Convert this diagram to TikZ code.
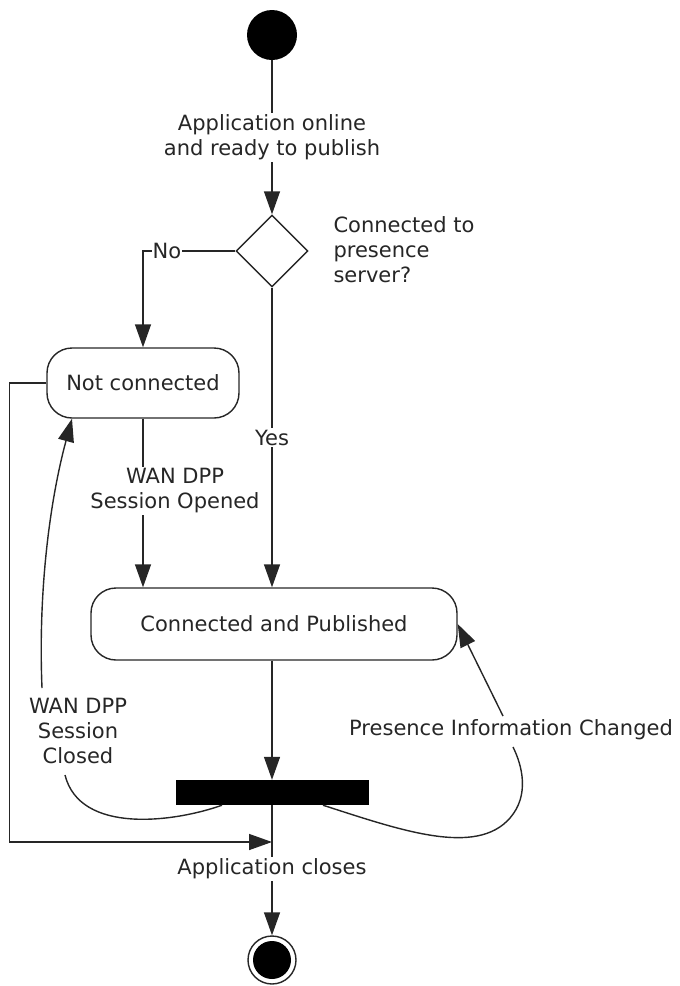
\documentclass[tikz,border=0pt]{standalone}
\usepackage{fontspec}
\setmainfont{DejaVu Sans}
\usetikzlibrary{shapes.geometric,arrows.meta}
\begin{document}
\begin{tikzpicture}[x=1pt,y=-1pt,
  every node/.style={font=\fontsize{21}{25}\selectfont, text=black!85},
  conn/.style={line width=1.4pt, draw=black!85},
  arr/.style={conn, -{Triangle[length=23pt,width=16pt]}},
  state/.style={draw=black!85, line width=1.4pt, rounded corners=25pt, inner sep=0pt},
  lbl/.style={fill=white, inner sep=2pt, align=center},
]
\useasboundingbox (0,0) rectangle (680,986);
% nodes
\node[circle, fill=black, minimum size=50pt, inner sep=0pt] (start) at (272,35) {};
\node[diamond, draw=black!85, line width=1.4pt, minimum width=72pt, minimum height=72pt, inner sep=0pt, aspect=1] (dia) at (272,251) {};
\node[align=left, anchor=west] (q) at (330,250) {Connected to\\presence\\server?};
\node[state, minimum width=192pt, minimum height=70pt] (nc) at (143,383) {Not connected};
\node[state, minimum width=366pt, minimum height=72pt] (cp) at (274,624) {Connected and Published};
\node[fill=black, minimum width=193pt, minimum height=25pt, inner sep=0pt] (bar) at (272,792.5) {};
\node[circle, draw=black!85, line width=1.4pt, minimum size=48pt, inner sep=0pt] (end) at (272,960) {};
\fill[black] (end.center) circle (19pt);
\coordinate (join) at (272,842);
\coordinate (c1) at (65,775);
\coordinate (c2) at (42,688);
\coordinate (p1) at (513,747);
\coordinate (p2) at (503,716);
% connectors
\draw[arr] (start) -- node[lbl]{Application online\\and ready to publish} (dia);
\draw[arr] (dia.west) -- node[lbl, pos=0.74, inner sep=1pt]{No} (dia.west -| nc.north) -- (nc.north);
\draw[arr] (dia.south) -- node[lbl]{Yes} (dia.south |- cp.north);
\draw[arr] (nc.south) -- (nc.south |- cp.north);
\node[lbl] (opened) at (175,491) {WAN DPP\\Session Opened};
\draw[arr] (cp.south -| bar.north) -- (bar.north);
\draw[arr] (nc.west) -- ++(-37,0) |- (join);
\draw[arr] (bar.south) -- (end.north);
\node[lbl] (closes) at (272,869) {Application closes};
% WAN DPP Session Closed
\node[align=center] (closed) at (78,731) {WAN DPP\\Session\\Closed};
\draw[conn] ([xshift=-50pt]bar.south) .. controls (175,822) and (80,835) .. (c1);
\draw[arr] (c2) .. controls (38,590) and (50,500) .. ([xshift=-71pt]nc.south);
% Presence Information Changed
\node (pic) at (511,730) {Presence Information Changed};
\draw[conn] ([xshift=51pt]bar.south) .. controls (400,830) and (476,857) .. (510,818) .. controls (530,795) and (522,765) .. (p1);
\draw[arr] (p2) -- (cp.east);
\end{tikzpicture}
\end{document}
